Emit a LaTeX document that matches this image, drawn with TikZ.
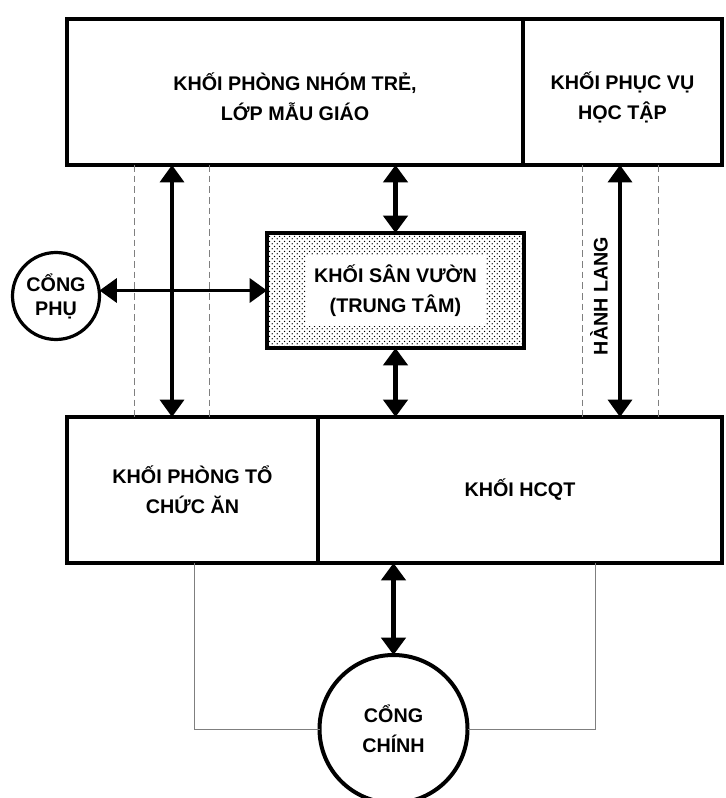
\documentclass[tikz,border=0pt]{standalone}
\usepackage{fontspec}
\setmainfont{Liberation Sans}
\usepackage{xcolor}
\definecolor{PlanInk}{HTML}{000000}
\definecolor{PlanGrey}{HTML}{7F7F7F}
\usepackage{tikz}
\usetikzlibrary{positioning,arrows.meta,patterns}
\pgfdeclarepatternformonly{yarddots}{\pgfpointorigin}{\pgfqpoint{4pt}{4pt}}{\pgfqpoint{4pt}{4pt}}{%
  \pgfpathcircle{\pgfqpoint{1pt}{1pt}}{0.6pt}%
  \pgfpathcircle{\pgfqpoint{3pt}{3pt}}{0.6pt}%
  \pgfusepath{fill}}
\newcommand{\planfont}{\bfseries\fontsize{14.8}{22.5}\selectfont}
\newcommand{\pdrop}{\rule{0pt}{21pt}}
\tikzset{
  pblock/.style={draw=PlanInk,line width=3pt,inner sep=0pt,outer sep=0pt,align=center,font=\planfont,minimum height=109.5pt},
  pyard/.style={draw=PlanInk,line width=3pt,pattern=yarddots,pattern color=PlanInk,inner sep=0pt,outer sep=0pt,minimum width=192.75pt,minimum height=86.25pt},
  plabel/.style={fill=white,inner sep=0pt,align=center,font=\planfont,minimum width=135pt,minimum height=52.5pt},
  pgate/.style={circle,draw=PlanInk,line width=2.4pt,inner sep=0pt,outer sep=0pt,align=center,font=\planfont},
  pflow/.style={{Triangle[width=18pt,length=13pt]}-{Triangle[width=18pt,length=13pt]},line width=2.6pt,draw=PlanInk},
  pflowbold/.style={pflow,line width=3.6pt},
  pcorridor/.style={draw=PlanGrey,line width=0.75pt,dash pattern=on 5pt off 3pt},
  pwall/.style={draw=PlanGrey,line width=0.75pt}
}

\begin{document}
\begin{tikzpicture}[x=0.75pt,y=-0.75pt]
  \useasboundingbox (0,0) rectangle (725,798);
  \node[pblock,minimum width=342pt] (nhom) at (295,92) {\pdrop KHỐI PHÒNG NHÓM TRẺ,\\LỚP MẪU GIÁO};
  \node[pblock,minimum width=149.25pt,right=0pt of nhom] (phucvu) {\pdrop KHỐI PHỤC VỤ\\HỌC TẬP};
  \node[pblock,minimum width=188.25pt] (anan) at (192.5,490) {KHỐI PHÒNG TỔ\\CHỨC ĂN};
  \node[pblock,minimum width=303pt,right=0pt of anan] (hcqt) {KHỐI HCQT};
  \node[pyard] (vuon) at (395.5,290.5) {};
  \node[plabel] (vuonlbl) at (vuon) {KHỐI SÂN VƯỜN\\(TRUNG TÂM)};
  \node[pgate,minimum size=65.25pt,font=\bfseries\fontsize{14.8}{18}\selectfont] (phu) at (56,296) {CỔNG\\PHỤ};
  \node[pgate,minimum size=111pt,line width=3pt] (chinh) at (393.5,729) {CỔNG\\CHÍNH};
  \node[font=\planfont,rotate=90] (hanhlang) at (599,296) {HÀNH LANG};
  \foreach \x in {134,209,582,658}
    \draw[pcorridor] (\x,0 |- nhom.south) -- (\x,0 |- anan.north);
  \coordinate (colL) at (172,0);
  \coordinate (colR) at (620,0);
  \coordinate (wallL) at (194,0);
  \coordinate (wallR) at (595,0);
  \draw[pwall] (wallL |- anan.south) |- (chinh.west);
  \draw[pwall] (wallR |- hcqt.south) |- (chinh.east);
  \draw[pflow] (colL |- nhom.south) -- (colL |- anan.north);
  \draw[pflow] (colR |- phucvu.south) -- (colR |- hcqt.north);
  \draw[pflow] (vuon.west) -- (phu.east |- vuon.west);
  \draw[pflowbold] (vuon.north |- nhom.south) -- (vuon.north);
  \draw[pflowbold] (vuon.south) -- (vuon.south |- hcqt.north);
  \draw[pflowbold] (chinh.north |- hcqt.south) -- (chinh.north);
\end{tikzpicture}
\end{document}
